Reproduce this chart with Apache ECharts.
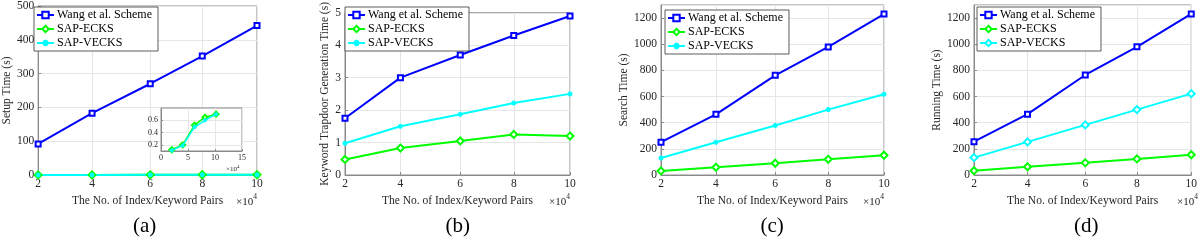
<!DOCTYPE html>
<html><head><meta charset="utf-8">
<script src="https://cdn.jsdelivr.net/npm/echarts@6/dist/echarts.min.js"></script>
<style>html,body{margin:0;padding:0;background:#fff}#c{width:1200px;height:241px}</style>
</head><body><div id="c"></div>
<script>
// ---- data (x in units of 10^4 index/keyword pairs) ----
const xPairs = [2, 4.02, 6.2, 8.15, 10.2];
const xTickLabels = ['2', '4', '6', '8', '10'];
const seriesNames = ['Wang et al. Scheme', 'SAP-ECKS', 'SAP-VECKS'];

const setupWang  = [92, 183, 270, 352, 442];
const setupEcks  = [0.12, 0.2, 0.52, 0.65, 0.7];
const setupVecks = [0.11, 0.19, 0.49, 0.6, 0.7];

const trapWang  = [1.75, 3.0, 3.7, 4.3, 4.9];
const trapEcks  = [0.48, 0.83, 1.05, 1.25, 1.2];
const trapVecks = [0.98, 1.5, 1.87, 2.22, 2.5];

const searchWang  = [251, 464, 762, 979, 1231];
const searchEcks  = [31, 59, 90, 120, 151];
const searchVecks = [130, 251, 379, 500, 618];

const runWang  = [255, 465, 765, 980, 1232];
const runEcks  = [33, 63, 93, 123, 155];
const runVecks = [133, 253, 383, 500, 622];

const insetYTicks = [0.2, 0.4, 0.6];

const yTitles = ['Setup Time (s)', 'Keyword Trapdoor Generation Time (s)', 'Search Time (s)', 'Running Time (s)'];
const xTitle = 'The No. of Index/Keyword Pairs';
const captions = ['(a)', '(b)', '(c)', '(d)'];

// ---- styling / layout ----
const FONT = '"Liberation Serif", "DejaVu Serif", serif';
const BLUE = '#0000ff', GREEN = '#00ff00', CYAN = '#00ffff';
const AX = '#262626', BOX = '#8a8a8a', GRIDC = '#e6e6e6';
const STAR = 'path://M0,5L10,5M5,0L5,10M1.5,1.5L8.5,8.5M8.5,1.5L1.5,8.5';

const panels = [
  {left: 33, width: 224, ymax: 500, yint: 100, nameGap: 24, legend: [34, 7]},
  {left: 345, width: 225, ymax: 5, yint: 1, nameGap: 13, legend: [345, 7]},
  {left: 661, width: 223, ymax: 1300, yint: 200, nameGap: 30, legend: [665, 10]},
  {left: 974, width: 224, ymax: 1300, yint: 200, nameGap: 29, legend: [977, 7]}
];
const TOP = 5, H = 170;

const grids = [], xAxes = [], yAxes = [], legends = [], graphics = [];
panels.forEach((p, i) => {
  grids.push({left: p.left, top: TOP, width: p.width, height: H, show: true, borderColor: BOX, borderWidth: 1, backgroundColor: 'transparent'});
  xAxes.push({
    type: 'value', gridIndex: i, min: 2, max: 10.2,
    name: xTitle, nameLocation: 'middle', nameGap: 16,
    nameTextStyle: {fontFamily: FONT, fontSize: 11.5, color: AX},
    axisLine: {show: true, lineStyle: {color: BOX}},
    axisTick: {show: true, inside: true, length: 3, customValues: xPairs, lineStyle: {color: BOX}},
    axisLabel: {customValues: xPairs, margin: 3, fontFamily: FONT, fontSize: 11.5, color: AX,
      formatter: v => xTickLabels[xPairs.indexOf(v)] !== undefined ? xTickLabels[xPairs.indexOf(v)] : String(Math.round(v))},
    splitLine: {show: true, lineStyle: {color: GRIDC, width: 1}}
  });
  yAxes.push({
    type: 'value', gridIndex: i, min: 0, max: p.ymax, interval: p.yint,
    name: yTitles[i], nameLocation: 'middle', nameGap: p.nameGap, nameRotate: 90,
    nameTextStyle: {fontFamily: FONT, fontSize: 11.5, color: AX},
    axisLine: {show: true, lineStyle: {color: BOX}},
    axisTick: {show: true, inside: true, length: 3, lineStyle: {color: BOX}},
    axisLabel: {margin: 4, fontFamily: FONT, fontSize: 11.5, color: AX, showMaxLabel: p.ymax % p.yint === 0,
      formatter: v => String(v)},
    splitLine: {show: true, lineStyle: {color: GRIDC, width: 1}}
  });
  legends.push({
    left: p.legend[0], top: p.legend[1], orient: 'vertical',
    data: i === 3 ? [seriesNames[0] + ' ', seriesNames[1] + ' ', seriesNames[2] + ' '] : seriesNames,
    formatter: n => n.trim(),
    itemWidth: 17, itemHeight: 8, itemGap: 2, padding: [2, 6, 2, 2],
    backgroundColor: '#fff', borderColor: '#333', borderWidth: 0.8, borderRadius: 0,
    textStyle: {fontFamily: FONT, fontSize: 12, color: '#000', padding: [0, 0, 0, -2]},
    selectedMode: false
  });
  graphics.push({
    type: 'text', right: 1200 - (p.left + p.width), top: 193, z: 10,
    style: {text: '{a|×10}{b|4}', rich: {a: {fontFamily: FONT, fontSize: 11, fill: AX, verticalAlign: 'bottom'}, b: {fontFamily: FONT, fontSize: 7.5, fill: AX, verticalAlign: 'top', padding: [0, 0, 7, 0]}}}
  });
  graphics.push({
    type: 'text', left: p.left + p.width / 2 - 12, top: 216, z: 10,
    style: {text: captions[i], fontFamily: FONT, fontSize: 21, fill: '#000'}
  });
});

// inset in panel (a)
grids.push({left: 161, top: 108, width: 81, height: 43, show: true, borderColor: BOX, borderWidth: 1, backgroundColor: '#fff', z: 5});
xAxes.push({type: 'value', gridIndex: 4, min: 0, max: 15, interval: 5, z: 6,
  axisLine: {show: true, lineStyle: {color: BOX}}, axisTick: {inside: true, length: 2, lineStyle: {color: BOX}},
  axisLabel: {margin: 3, fontFamily: FONT, fontSize: 8, color: AX},
  splitLine: {show: true, lineStyle: {color: GRIDC}}});
yAxes.push({type: 'value', gridIndex: 4, min: 0.1, max: 0.8, z: 6,
  axisLine: {show: true, lineStyle: {color: BOX}}, axisTick: {inside: true, length: 2, customValues: insetYTicks, lineStyle: {color: BOX}},
  axisLabel: {margin: 3, fontFamily: FONT, fontSize: 8, color: AX, customValues: insetYTicks},
  splitLine: {show: true, lineStyle: {color: GRIDC}}});
graphics.push({type: 'text', left: 226, top: 164, z: 10,
  style: {text: '{a|×10}{b|4}', rich: {a: {fontFamily: FONT, fontSize: 7, fill: AX}, b: {fontFamily: FONT, fontSize: 5, fill: AX, padding: [0, 0, 5, 0]}}}});

function mk(name, vals, gi, color, symbol, size, width, z) {
  return {
    type: 'line', name, xAxisIndex: gi, yAxisIndex: gi,
    data: xPairs.map((x, k) => [x, vals[k]]),
    color, symbol, symbolSize: size, showAllSymbol: true,
    lineStyle: {width: width || 2, color},
    itemStyle: {color, borderColor: color, borderWidth: 1.5},
    z: z || 2, silent: true
  };
}

const series = [
  mk(seriesNames[0], setupWang, 0, BLUE, 'emptyRect', 5),
  mk(seriesNames[1], setupEcks, 0, GREEN, 'emptyDiamond', 7),
  mk(seriesNames[2], setupVecks, 0, CYAN, STAR, 5),
  mk(seriesNames[0], trapWang, 1, BLUE, 'emptyRect', 5),
  mk(seriesNames[1], trapEcks, 1, GREEN, 'emptyDiamond', 7),
  mk(seriesNames[2], trapVecks, 1, CYAN, STAR, 5),
  mk(seriesNames[0], searchWang, 2, BLUE, 'emptyRect', 5),
  mk(seriesNames[1], searchEcks, 2, GREEN, 'emptyDiamond', 7),
  mk(seriesNames[2], searchVecks, 2, CYAN, STAR, 5),
  mk(seriesNames[0] + ' ', runWang, 3, BLUE, 'emptyRect', 5),
  mk(seriesNames[1] + ' ', runEcks, 3, GREEN, 'emptyDiamond', 7),
  mk(seriesNames[2] + ' ', runVecks, 3, CYAN, 'emptyDiamond', 7),
  mk(seriesNames[1], setupEcks, 4, GREEN, 'emptyDiamond', 5, 1.5, 7),
  mk(seriesNames[2], setupVecks, 4, CYAN, STAR, 4, 1.5, 8)
];

const chart = echarts.init(document.getElementById('c'), null, {renderer: 'canvas'});
chart.setOption({
  animation: false,
  backgroundColor: '#fff',
  grid: grids, xAxis: xAxes, yAxis: yAxes, legend: legends,
  series, graphic: graphics
});
</script></body></html>
